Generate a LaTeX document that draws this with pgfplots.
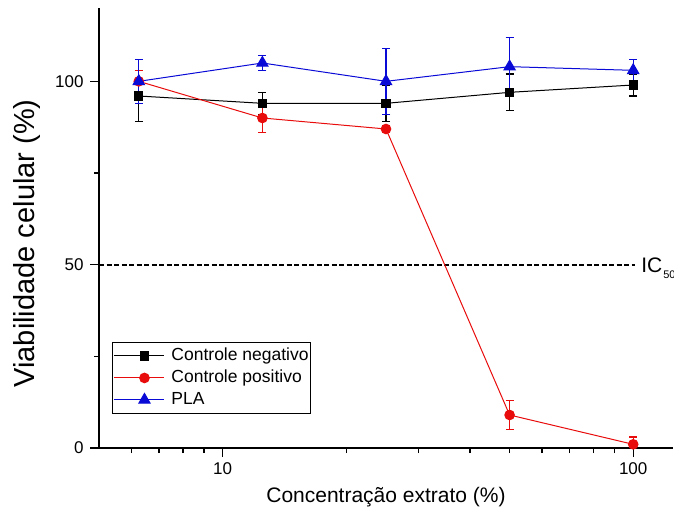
\documentclass[border=0pt]{standalone}
\usepackage{fontspec}
\setmainfont{Liberation Sans}
\usepackage{pgfplots}
\pgfplotsset{compat=1.18}
\definecolor{pred}{RGB}{232,12,12}
\definecolor{pblue}{RGB}{10,10,215}

\begin{document}
\begin{tikzpicture}
  \begin{axis}[
      scale only axis,
      width=574bp, height=440bp,
      xmode=log,
      xmin=5, xmax=125,
      ymin=0, ymax=120,
      axis x line*=bottom,
      axis y line*=left,
      axis line style={line width=2bp, black},
      tick align=outside,
      major tick length=9bp,
      minor tick length=5bp,
      tick style={line width=1.4bp, black},
      xtick={10,100},
      xticklabels={10,100},
      minor xtick={6,7,8,9,20,30,40,50,60,70,80,90},
      ytick={0,50,100},
      minor ytick={25,75},
      /pgf/number format/assume math mode=true,
      tick label style={font=\fontsize{17bp}{20bp}\selectfont},
      yticklabel style={xshift=-3bp},
      xticklabel style={yshift=-2bp},
      xlabel={Concentração extrato (\%)},
      ylabel={Viabilidade celular (\%)},
      xlabel style={font=\fontsize{21bp}{25bp}\selectfont, at={(axis description cs:0.5,-0.111)}, anchor=center},
      ylabel style={font=\fontsize{29bp}{33bp}\selectfont, at={(axis description cs:-0.125,0.465)}, anchor=center},
      legend style={
        at={(rel axis cs:0.0226,0.241)}, anchor=north west,
        draw=black, line width=1bp,
        font=\fontsize{17.5bp}{20bp}\selectfont,
        inner xsep=1bp, inner ysep=4bp,
        row sep=3bp, column sep=6bp,
        nodes={inner sep=1bp, text height=13bp, text depth=4bp},
        legend cell align=left,
      },
      legend image code/.code={
        \path (0bp,0bp) -- (11bp,0bp);
        \draw[mark repeat=2,mark phase=2] plot coordinates {(11bp,0bp) (30.5bp,0bp) (50bp,0bp)};
      },
    ]

    % IC50 reference line
    \addplot[black, line width=2bp, dash pattern=on 5bp off 2.5bp, forget plot]
      coordinates {(5,50) (101,50)};

    % Controle negativo
    \addplot[black, line width=1bp, mark=square*, mark size=4.2bp, mark options={solid, fill=black},
      error bars/.cd, y dir=both, y explicit,
      error bar style={line width=1.2bp},
      error mark options={rotate=90, mark size=4bp, line width=1.2bp}]
      coordinates {
        (6.25,96) +- (0,7)
        (12.5,94) +- (0,3)
        (25,94)   +- (0,5)
        (50,97)   +- (0,5)
        (100,99)  +- (0,3)
      };
    \addlegendentry{Controle negativo}

    % Controle positivo
    \addplot[pred, line width=1bp, mark=*, mark size=4.8bp, mark options={solid, fill=pred},
      error bars/.cd, y dir=both, y explicit,
      error bar style={line width=1.2bp},
      error mark options={rotate=90, mark size=4bp, line width=1.2bp}]
      coordinates {
        (6.25,100) +- (0,3)
        (12.5,90)  +- (0,4)
        (25,87)    +- (0,1)
        (50,9)     +- (0,4)
        (100,1)    +- (0,2)
      };
    \addlegendentry{Controle positivo}

    % PLA
    \addplot[pblue, line width=1bp, mark=triangle*, mark size=6.5bp, mark options={solid, fill=pblue},
      error bars/.cd, y dir=both, y explicit,
      error bar style={line width=1.2bp},
      error mark options={rotate=90, mark size=4bp, line width=1.2bp}]
      coordinates {
        (6.25,100) +- (0,6)
        (12.5,105) +- (0,2)
        (25,100)   +- (0,9)
        (50,104)   +- (0,8)
        (100,103)  +- (0,3)
      };
    \addlegendentry{PLA}

    \node[anchor=base west, inner sep=0pt, yshift=-8bp, font=\fontsize{21bp}{24bp}\selectfont]
      at (axis cs:104.5,50) {IC\kern1bp\raisebox{-6bp}{\fontsize{11bp}{12bp}\selectfont 50}};
  \end{axis}
  \pgfresetboundingbox
  \path[use as bounding box] (-99bp,-70bp) rectangle (584bp,448bp);
\end{tikzpicture}
\end{document}
